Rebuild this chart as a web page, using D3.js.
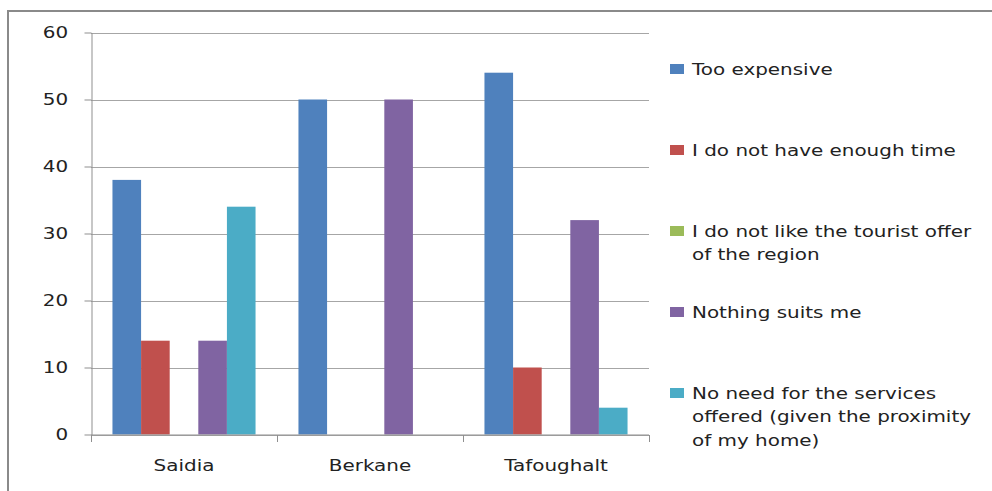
<!DOCTYPE html>
<html>
<head>
<meta charset="utf-8">
<script src="https://cdn.jsdelivr.net/npm/d3@7"></script>
<style>
  html, body { margin: 0; padding: 0; background: #fff; }
  svg { display: block; }
  text { font-family: "DejaVu Sans", sans-serif; font-size: 15px; fill: #222; }
</style>
</head>
<body>
<svg id="chart" width="992" height="491"></svg>
<script>
// Reasons for not using local tourist services, by town (%)
const categories = ["Saidia", "Berkane", "Tafoughalt"];
const seriesNames = [
  "Too expensive",
  "I do not have enough time",
  "I do not like the tourist offer\nof the region",
  "Nothing suits me",
  "No need for the services\noffered (given the proximity\nof my home)"
];
const seriesColors = ["#4F81BD", "#C0504D", "#9BBB59", "#8064A2", "#4BACC6"];
const tooExpensive   = [38, 50, 54];
const notEnoughTime  = [14, 0, 10];
const dislikeOffer   = [0, 0, 0];
const nothingSuits   = [14, 50, 32];
const noNeed         = [34, 0, 4];
const seriesValues = [tooExpensive, notEnoughTime, dislikeOffer, nothingSuits, noNeed];
const yTicks = [0, 10, 20, 30, 40, 50, 60];

const W = 992, H = 491;
const plot = { left: 91, top: 32.5, right: 649, bottom: 434.5 };
const textScale = 1.33;

const svg = d3.select("#chart");

// frame around the chart area
svg.append("path")
  .attr("d", `M8,${H} L8,11 L${W},11`)
  .attr("fill", "none")
  .attr("stroke", "#8a8a8a")
  .attr("stroke-width", 2);

const x0 = d3.scaleBand().domain(categories).range([plot.left, plot.right]).paddingInner(0).paddingOuter(0);
const x1 = d3.scaleBand().domain(d3.range(seriesNames.length)).range([0, x0.bandwidth()])
  .paddingInner(0).paddingOuter(0.75);
const y = d3.scaleLinear().domain([0, 60]).range([plot.bottom, plot.top]);

// horizontal gridlines
svg.append("g")
  .selectAll("line")
  .data(yTicks)
  .join("line")
  .attr("x1", plot.left).attr("x2", plot.right)
  .attr("y1", d => Math.round(y(d)) + 0.5).attr("y2", d => Math.round(y(d)) + 0.5)
  .attr("stroke", "#a6a6a6").attr("stroke-width", 1);

// bars
const rows = categories.map((c, ci) => ({ c, vals: seriesValues.map((s, si) => ({ si, v: s[ci] })) }));
svg.append("g")
  .selectAll("g")
  .data(rows)
  .join("g")
  .attr("transform", d => `translate(${x0(d.c)},0)`)
  .selectAll("rect")
  .data(d => d.vals.filter(e => e.v > 0))
  .join("rect")
  .attr("x", d => x1(d.si))
  .attr("width", x1.bandwidth())
  .attr("y", d => y(d.v))
  .attr("height", d => y(0) - y(d.v))
  .attr("fill", d => seriesColors[d.si]);

// y axis
const yAxis = svg.append("g")
  .attr("transform", `translate(${plot.left + 0.5},0)`)
  .call(d3.axisLeft(y).tickValues(yTicks).tickSize(7).tickSizeOuter(0).tickFormat(d3.format("d")));
yAxis.select(".domain").attr("stroke", "#8f8f8f");
yAxis.selectAll(".tick line").attr("stroke", "#8f8f8f");
yAxis.selectAll(".tick text")
  .attr("x", -17.6).attr("dy", "0.36em")
  .attr("transform", `scale(${textScale},1)`)
  .style("font-family", "DejaVu Sans").style("font-size", "15px").attr("fill", "#222");

// x axis with ticks at category boundaries
const xAxisG = svg.append("g").attr("transform", `translate(0,${plot.bottom + 0.5})`);
xAxisG.append("line")
  .attr("x1", plot.left).attr("x2", plot.right)
  .attr("stroke", "#8f8f8f");
const bounds = categories.map(c => x0(c)).concat([x0(categories[categories.length - 1]) + x0.bandwidth()]);
xAxisG.selectAll("line.tk")
  .data(bounds)
  .join("line")
  .attr("class", "tk")
  .attr("x1", d => Math.round(d) + 0.5).attr("x2", d => Math.round(d) + 0.5)
  .attr("y1", 0).attr("y2", 7)
  .attr("stroke", "#8f8f8f");
xAxisG.selectAll("g.lab")
  .data(categories)
  .join("g")
  .attr("class", "lab")
  .attr("transform", d => `translate(${x0(d) + x0.bandwidth() / 2},35.5) scale(${textScale},1)`)
  .append("text")
  .attr("text-anchor", "middle")
  .text(d => d);

// legend
const legend = svg.append("g");
const entry = legend.selectAll("g")
  .data(seriesNames)
  .join("g")
  .attr("transform", (d, i) => `translate(0,${75 + 81 * i})`);
entry.append("rect")
  .attr("x", 670).attr("y", -11)
  .attr("width", 14).attr("height", 10)
  .attr("fill", (d, i) => seriesColors[i]);
entry.append("g")
  .attr("transform", `translate(692,0) scale(${textScale},1)`)
  .append("text")
  .selectAll("tspan")
  .data(d => d.split("\n"))
  .join("tspan")
  .attr("x", 0)
  .attr("y", (d, i) => i * 23.5)
  .text(d => d);
</script>
</body>
</html>
